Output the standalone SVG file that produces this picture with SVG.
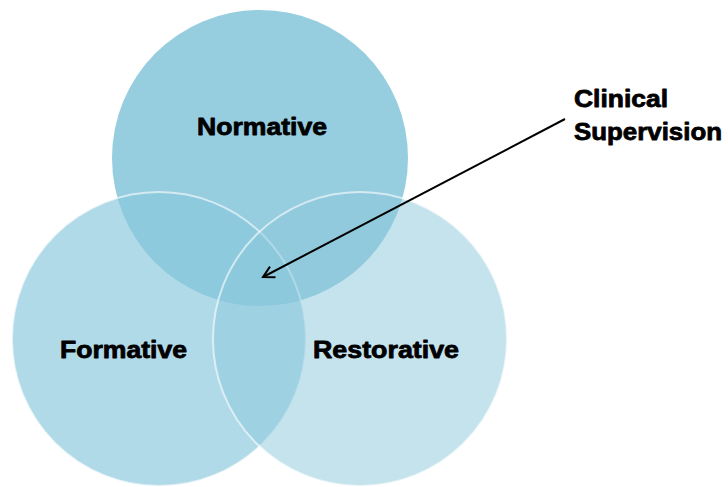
<svg xmlns="http://www.w3.org/2000/svg" width="728" height="487" viewBox="0 0 728 487">
<style>
.lbl{font-family:"Liberation Sans",Arial,sans-serif;font-weight:bold;font-size:24px;fill:#000;stroke:#000;stroke-width:0.8;stroke-linejoin:round}
.c{fill:#8BC8DC}
.ring{stroke:#fff;stroke-opacity:0.6;stroke-width:2}
</style>
<defs>
<marker id="ah" markerWidth="14" markerHeight="14" refX="12" refY="7" orient="auto" markerUnits="userSpaceOnUse">
<path d="M1,1 L12,7 L1,13" fill="none" stroke="#000" stroke-width="2"/>
</marker>
</defs>
<rect width="728" height="487" fill="#fff"/>
<g id="normative">
<circle class="c" cx="260" cy="158" r="148" fill-opacity="0.9"/>
<text class="lbl" x="197" y="135" textLength="130" lengthAdjust="spacingAndGlyphs">Normative</text>
</g>
<g id="formative">
<circle class="c ring" cx="159" cy="339" r="147" fill-opacity="0.67"/>
<text class="lbl" x="60" y="358" textLength="127" lengthAdjust="spacingAndGlyphs">Formative</text>
</g>
<g id="restorative">
<circle class="c ring" cx="360" cy="339" r="147" fill-opacity="0.5"/>
<text class="lbl" x="313" y="358" textLength="146" lengthAdjust="spacingAndGlyphs">Restorative</text>
</g>
<g id="clinical-supervision">
<text class="lbl" x="574" y="107" textLength="94" lengthAdjust="spacingAndGlyphs">Clinical</text>
<text class="lbl" x="574" y="140" textLength="148" lengthAdjust="spacingAndGlyphs">Supervision</text>
</g>
<g id="connectors">
<line x1="565" y1="119" x2="263" y2="277" stroke="#000" stroke-width="2" marker-end="url(#ah)"/>
</g>
</svg>
